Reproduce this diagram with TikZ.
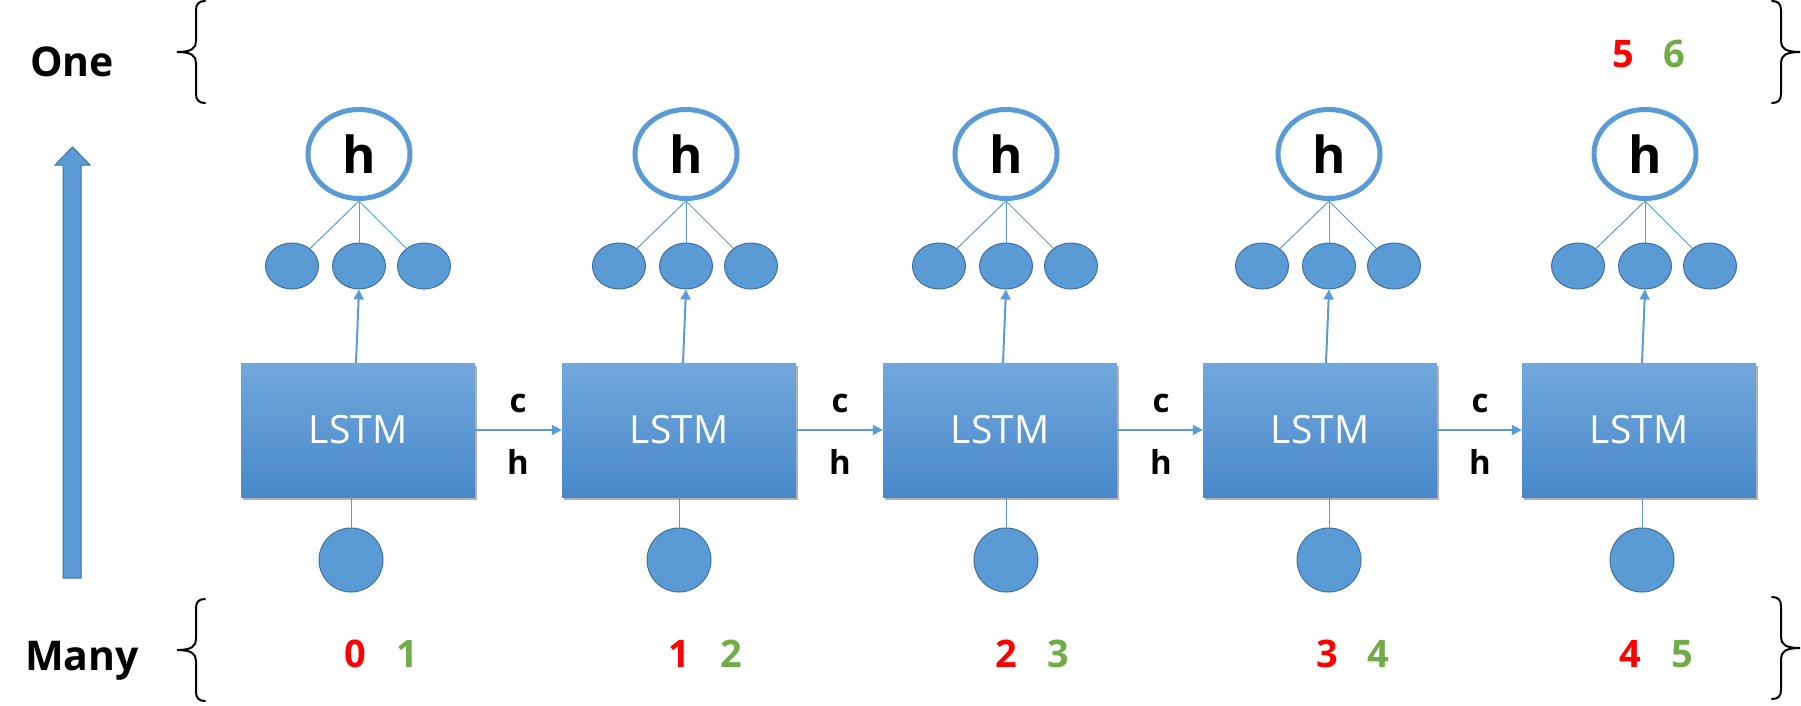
\documentclass[tikz,border=0pt]{standalone}
\usepackage{fontspec}
\setmainfont{Open Sans}
\usetikzlibrary{arrows.meta,shapes.geometric,shadows}
\definecolor{blu}{HTML}{5B9BD5}
\definecolor{bord}{HTML}{41719C}
\definecolor{btop}{HTML}{71A8DC}
\definecolor{bbot}{HTML}{4888CA}
\definecolor{nred}{HTML}{FF0000}
\definecolor{ngreen}{HTML}{70AD47}
\tikzset{
  lstm/.style={rectangle, minimum width=234pt, minimum height=134pt, inner sep=0pt,
    top color=btop, bottom color=bbot, draw=none, text=white,
    font=\fontsize{39}{45}\selectfont,
    drop shadow={shadow xshift=2pt, shadow yshift=-3pt, opacity=0.3, fill=black}},
  hnode/.style={ellipse, draw=blu, line width=5pt, fill=white, minimum width=102pt,
    minimum height=89pt, inner sep=0pt, font=\bfseries\fontsize{51}{51}\selectfont},
  unit/.style={ellipse, draw=bord, fill=blu, line width=1pt, minimum width=53pt,
    minimum height=46pt, inner sep=0pt},
  inp/.style={circle, draw=bord, fill=blu, line width=1pt, minimum size=64pt, inner sep=0pt},
  thin/.style={draw=blu, line width=1pt},
  flow/.style={draw=blu, line width=2pt, -{Triangle[width=10pt,length=10pt]}},
  lab/.style={font=\bfseries\fontsize{33}{40}\selectfont, anchor=base},
  big/.style={font=\bfseries\fontsize{41}{50}\selectfont},
  num/.style={font=\bfseries\fontsize{38}{45}\selectfont, anchor=base},
  curly/.pic={\draw[line width=2pt, line cap=round]
    (28,-51) .. controls (22,-51) and (19,-48) .. (19,-42) -- (19,-11)
    .. controls (19,-4) and (15,0) .. (0,0)
    .. controls (15,0) and (19,4) .. (19,11) -- (19,42)
    .. controls (19,48) and (22,51) .. (28,51);}
}
\begin{document}
\begin{tikzpicture}[x=1pt,y=-1pt]
\useasboundingbox (0,0) rectangle (1801,705);

% side labels and braces
\node[big] (one) at (72,62) {One};
\node[big, anchor=base] (many) at (82,670) {Many};
\pic at (177,52) {curly};
\pic at (177,650) {curly};
\pic[xscale=-1] at (1800,52) {curly};
\pic[xscale=-1] at (1800,648) {curly};

% big upward arrow
\filldraw[fill=blu, draw=bord, line width=1pt]
  (63,578) -- (63,165) -- (55,165) -- (72.5,147) -- (90,165) -- (81,165) -- (81,578) -- cycle;

% LSTM boxes
\node[lstm] (b1) at (358,430) {LSTM};
\node[lstm] (b2) at (679,430) {LSTM};
\node[lstm] (b3) at (1000,430) {LSTM};
\node[lstm] (b4) at (1320,430) {LSTM};
\node[lstm] (b5) at (1639,430) {LSTM};

% output structure
\foreach \i/\x in {1/359,2/686,3/1006,4/1329,5/1645}{
  \node[hnode] (h\i) at (\x,154) {h};
  \node[unit] (l\i) at (\x-67,266) {};
  \node[unit] (m\i) at (\x,266) {};
  \node[unit] (r\i) at (\x+65,266) {};
  \draw[thin] (h\i.south) -- (l\i);
  \draw[thin] (h\i.south) -- (m\i.north);
  \draw[thin] (h\i.south) -- (r\i);
  \draw[flow] (b\i.north -| m\i) ++(-3,0) -- (m\i.south);
}

% inputs
\foreach \i/\x in {1/351,2/679,3/1006,4/1329,5/1642}{
  \node[inp] (in\i) at (\x,560) {};
  \draw[thin] (b\i.south -| in\i) -- (in\i.north);
}

% recurrent connections
\foreach \a/\b/\x in {1/2/518,2/3/840,3/4/1161,4/5/1480}{
  \draw[flow] (b\a.east) -- (b\b.west);
  \node[lab] (c\a) at (\x,412) {c};
  \node[lab] (hh\a) at (\x,474) {h};
}

% numbers
\node[num, text=nred] (n0a) at (355,667) {0};
\node[num, text=ngreen] (n0b) at (407,667) {1};
\node[num, text=nred] (n1a) at (679,667) {1};
\node[num, text=ngreen] (n1b) at (731,667) {2};
\node[num, text=nred] (n2a) at (1006,667) {2};
\node[num, text=ngreen] (n2b) at (1058,667) {3};
\node[num, text=nred] (n3a) at (1327,667) {3};
\node[num, text=ngreen] (n3b) at (1378,667) {4};
\node[num, text=nred] (n4a) at (1630,667) {4};
\node[num, text=ngreen] (n4b) at (1682,667) {5};
\node[num, text=nred] (n5a) at (1623,67) {5};
\node[num, text=ngreen] (n5b) at (1674,67) {6};
\end{tikzpicture}
\end{document}
